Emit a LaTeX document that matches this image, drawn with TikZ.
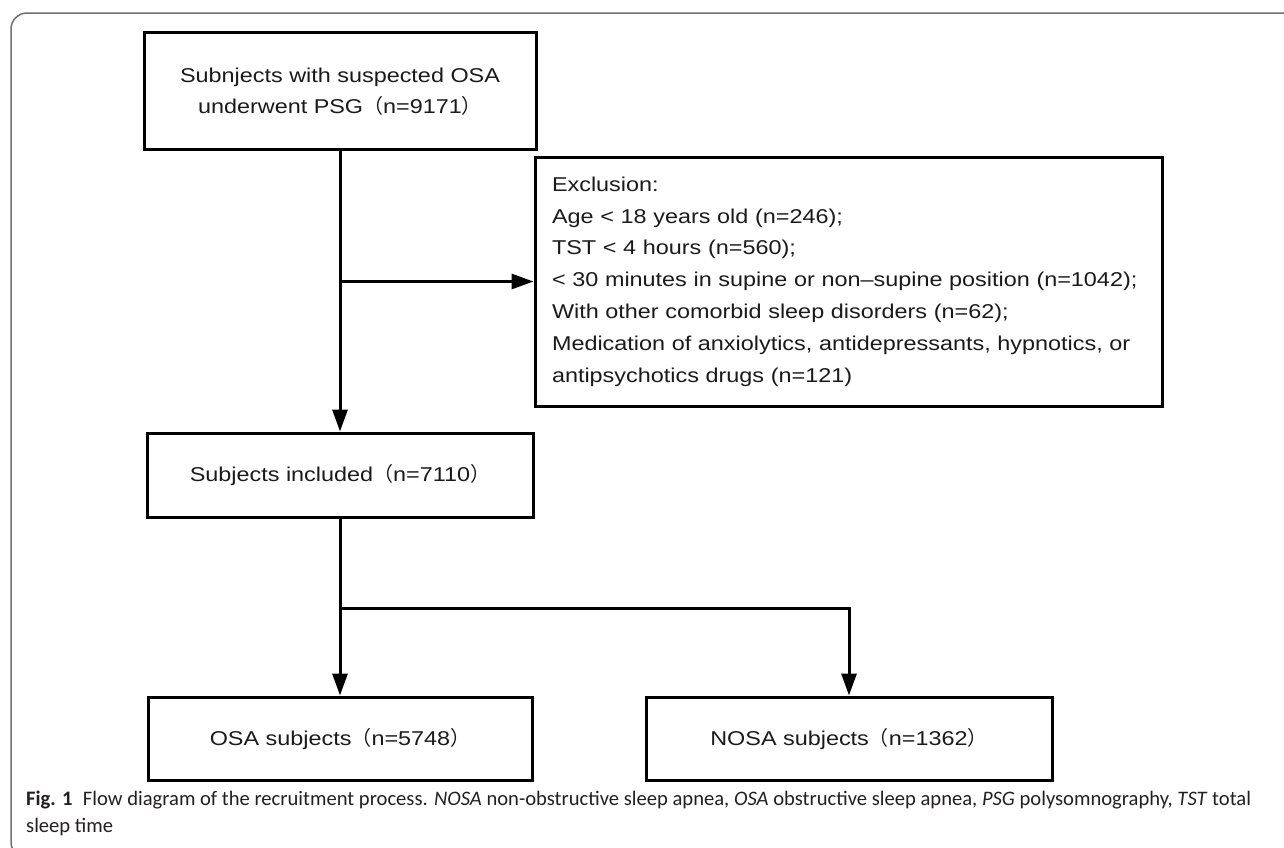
\documentclass[tikz,border=0pt]{standalone}
\usepackage{fontspec}
\usetikzlibrary{arrows.meta}
\newfontfamily\boxfont[FakeStretch=1.17]{Liberation Sans}
\newfontfamily\cjkfont{Noto Sans CJK SC}
\newfontfamily\capfont{Carlito}
\definecolor{framegray}{HTML}{707070}
\definecolor{txt}{HTML}{1A1A1A}
\definecolor{captxt}{HTML}{231F20}
\newcommand{\lpar}{{\cjkfont （}}
\newcommand{\rpar}{{\cjkfont ）}}
\begin{document}
\begin{tikzpicture}[x=1pt,y=-1pt,
  flowbox/.style={draw=black, line width=3pt, rectangle, inner sep=0pt, align=center, text=txt, font=\boxfont\fontsize{20}{31}\selectfont},
  exclbox/.style={draw=black, line width=3pt, rectangle, inner xsep=17pt, inner ysep=0pt, align=left, text=txt, font=\boxfont\fontsize{20}{31.8}\selectfont},
  flowarrow/.style={line width=3pt, -{Triangle[length=22pt,width=15pt]}},
  captext/.style={anchor=base west, inner sep=0pt, text=captxt, font=\capfont\fontsize{20.6}{27}\selectfont}]
\useasboundingbox (0,0) rectangle (1284,847);
\begin{scope}
\clip (0,0) rectangle (1284,847);
\draw[framegray, line width=1.5pt, rounded corners=16pt] (1300,13) -- (11,13) -- (11,858) -- (40,858);
\end{scope}
\node[flowbox, minimum width=392pt, minimum height=117pt] (psg) at (340,91.3) {Subnjects with suspected OSA\\underwent PSG\lpar n=9171\rpar};
\node[exclbox, minimum width=627pt, minimum height=249pt, text width=593pt] (excl) at (848.5,281.5) {Exclusion:\\Age < 18 years old (n=246);\\TST < 4 hours (n=560);\\< 30 minutes in supine or non–supine position (n=1042);\\With other comorbid sleep disorders (n=62);\\Medication of anxiolytics, antidepressants, hypnotics, or\\antipsychotics drugs (n=121)};
\node[flowbox, minimum width=386pt, minimum height=84pt] (incl) at (340,475) {Subjects included\lpar n=7110\rpar};
\node[flowbox, minimum width=384pt, minimum height=83pt] (osa) at (340,738.5) {OSA subjects\lpar n=5748\rpar};
\node[flowbox, minimum width=406pt, minimum height=83pt] (nosa) at (849,738.5) {NOSA subjects\lpar n=1362\rpar};
\coordinate (branch) at (340,281.5);
\coordinate (split) at (340,608);
\draw[flowarrow] (psg.south) -- (incl.north);
\draw[flowarrow] (branch) -- (excl.west);
\draw[flowarrow] (incl.south) -- (osa.north);
\draw[flowarrow] (split) -| (nosa.north);
\node[captext] (cap1) at (26,805) {\textbf{Fig. 1}\hspace{0.5em}Flow diagram of the recruitment process. \textit{NOSA} non-obstructive sleep apnea, \textit{OSA} obstructive sleep apnea, \textit{PSG} polysomnography, \textit{TST} total};
\node[captext] (cap2) at (26,832) {sleep time};
\end{tikzpicture}
\end{document}
